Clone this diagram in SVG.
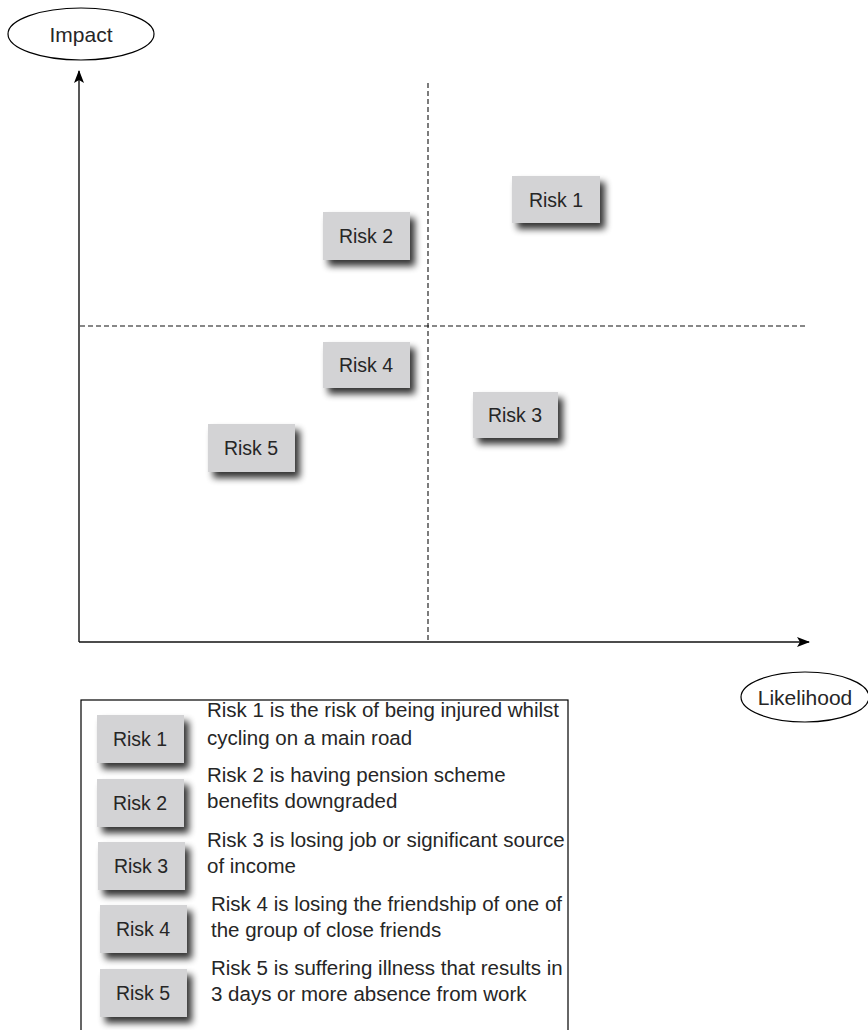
<svg xmlns="http://www.w3.org/2000/svg" width="868" height="1030" viewBox="0 0 868 1030">
  <defs>
    <filter id="shadow" x="-20%" y="-30%" width="150%" height="190%">
      <feGaussianBlur in="SourceAlpha" stdDeviation="3.5"/>
      <feOffset dx="5" dy="6" result="blur"/>
      <feComponentTransfer><feFuncA type="linear" slope="0.8"/></feComponentTransfer>
      <feMerge><feMergeNode/><feMergeNode in="SourceGraphic"/></feMerge>
    </filter>
    <marker id="arrow" markerWidth="13" markerHeight="10" refX="12" refY="5" orient="auto" markerUnits="userSpaceOnUse">
      <path d="M0,0 L13,5 L0,10 L3,5 Z" fill="#000"/>
    </marker>
  </defs>
  <style>
    text { font-family: "Liberation Sans", Arial, sans-serif; fill: #262626; }
    .box { fill: #d3d3d5; filter: url(#shadow); }
    .lbl { font-size: 19.5px; text-anchor: middle; }
    .desc { font-size: 20.5px; }
    .axis { stroke: #111; stroke-width: 1.4; fill: none; }
    .dash { stroke: #111; stroke-width: 1.1; stroke-dasharray: 5 3; fill: none; }
    .ell { fill: #fff; stroke: #000; stroke-width: 1.2; }
  </style>
  <rect width="868" height="1030" fill="#fff"/>

  <!-- axes and quadrant dividers -->
  <g id="connectors">
    <line class="dash" x1="428" y1="83" x2="428" y2="641"/>
    <line class="dash" x1="80" y1="326" x2="808" y2="326"/>
    <line class="axis" x1="79" y1="642" x2="79" y2="71" marker-end="url(#arrow)"/>
    <line class="axis" x1="79" y1="642" x2="809" y2="642" marker-end="url(#arrow)"/>
  </g>

  <g id="impact">
    <ellipse class="ell" cx="81" cy="34" rx="73" ry="26"/>
    <text x="81" y="42" font-size="21" text-anchor="middle">Impact</text>
  </g>
  <g id="likelihood">
    <ellipse class="ell" cx="805" cy="697" rx="64" ry="25"/>
    <text x="805" y="705" font-size="21" text-anchor="middle">Likelihood</text>
  </g>

  <!-- risks placed on the matrix -->
  <g id="risk1"><rect class="box" x="512" y="176" width="88" height="47"/><text class="lbl" x="556" y="207">Risk 1</text></g>
  <g id="risk2"><rect class="box" x="323" y="212" width="87" height="48"/><text class="lbl" x="366" y="243">Risk 2</text></g>
  <g id="risk4"><rect class="box" x="323" y="342" width="87" height="46"/><text class="lbl" x="366" y="372">Risk 4</text></g>
  <g id="risk3"><rect class="box" x="473" y="392" width="85" height="46"/><text class="lbl" x="515" y="422">Risk 3</text></g>
  <g id="risk5"><rect class="box" x="208" y="424" width="87" height="48"/><text class="lbl" x="251" y="455">Risk 5</text></g>

  <!-- key -->
  <g id="legend">
    <rect x="81" y="700" width="487" height="340" fill="#fff" stroke="#000" stroke-width="1.2"/>
    <g id="key1">
      <rect class="box" x="97" y="715" width="87" height="48"/><text class="lbl" x="140" y="746">Risk 1</text>
      <text class="desc" x="207" y="717">Risk 1 is the risk of being injured whilst</text>
      <text class="desc" x="207" y="745">cycling on a main road</text>
    </g>
    <g id="key2">
      <rect class="box" x="97" y="779" width="87" height="48"/><text class="lbl" x="140" y="810">Risk 2</text>
      <text class="desc" x="207" y="782">Risk 2 is having pension scheme</text>
      <text class="desc" x="207" y="808">benefits downgraded</text>
    </g>
    <g id="key3">
      <rect class="box" x="98" y="842" width="87" height="48"/><text class="lbl" x="141" y="873">Risk 3</text>
      <text class="desc" x="207" y="847">Risk 3 is losing job or significant source</text>
      <text class="desc" x="207" y="873">of income</text>
    </g>
    <g id="key4">
      <rect class="box" x="100" y="905" width="87" height="48"/><text class="lbl" x="143" y="936">Risk 4</text>
      <text class="desc" x="211" y="911">Risk 4 is losing the friendship of one of</text>
      <text class="desc" x="211" y="937">the group of close friends</text>
    </g>
    <g id="key5">
      <rect class="box" x="100" y="969" width="87" height="48"/><text class="lbl" x="143" y="1000">Risk 5</text>
      <text class="desc" x="211" y="975">Risk 5 is suffering illness that results in</text>
      <text class="desc" x="211" y="1001">3 days or more absence from work</text>
    </g>
  </g>
</svg>
